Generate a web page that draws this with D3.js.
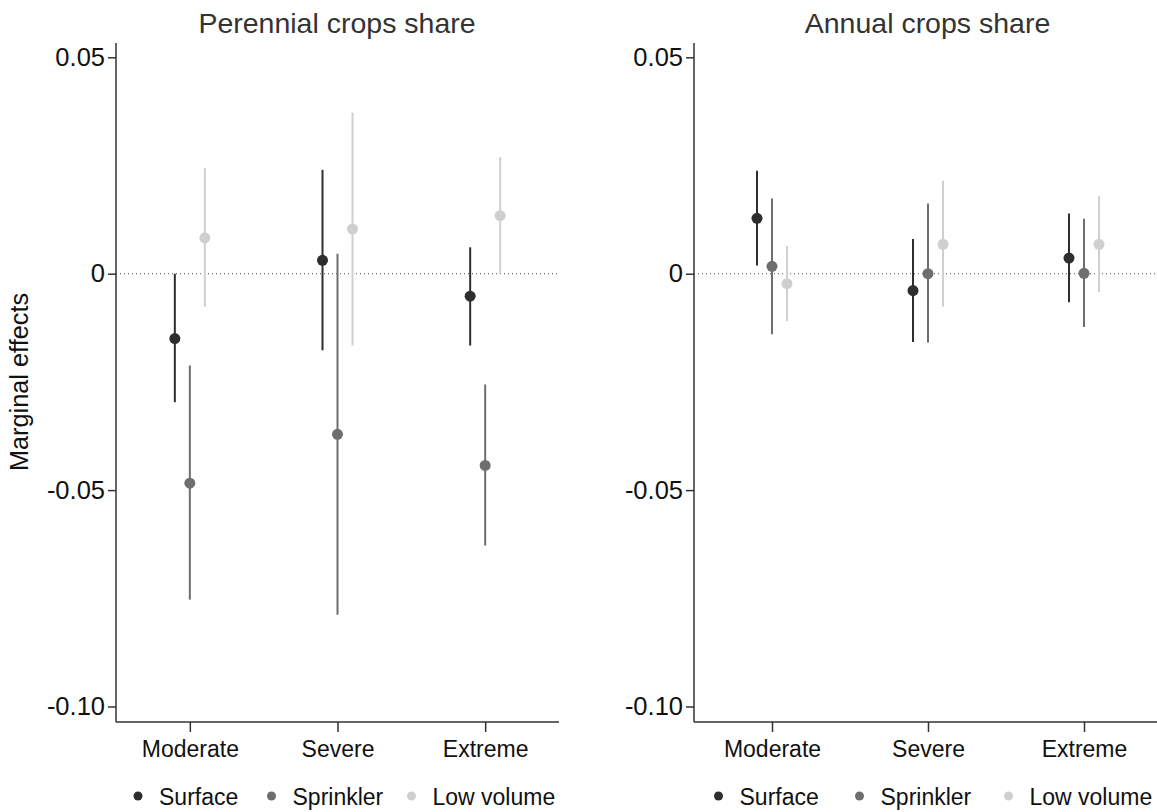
<!DOCTYPE html>
<html>
<head>
<meta charset="utf-8">
<script src="https://cdn.jsdelivr.net/npm/d3@7"></script>
<style>
  body { margin: 0; background: #fff; }
  svg { font-family: Arial, "Liberation Sans", sans-serif; }
</style>
</head>
<body>
<div id="chart"></div>
<script>
const categories = ['Moderate', 'Severe', 'Extreme'];
const series = ['Surface', 'Sprinkler', 'Low volume'];
const yTicks = [0.05, 0, -0.05, -0.10];
const yTickLabels = ['0.05', '0', '-0.05', '-0.10'];

// Perennial crops share: rows = series, columns = categories
const perEst = [[-0.0150, 0.0031, -0.0052], [-0.0484, -0.0371, -0.0443], [0.0083, 0.0103, 0.0134]];
const perLo  = [[-0.0297, -0.0177, -0.0166], [-0.0753, -0.0788, -0.0628], [-0.0076, -0.0166, 0.0000]];
const perHi  = [[0.0000, 0.0240, 0.0061], [-0.0212, 0.0046, -0.0256], [0.0244, 0.0372, 0.0269]];

// Annual crops share
const annEst = [[0.0128, -0.0039, 0.0036], [0.0017, 0.0000, 0.0001], [-0.0023, 0.0068, 0.0068]];
const annLo  = [[0.0019, -0.0158, -0.0066], [-0.0140, -0.0159, -0.0123], [-0.0110, -0.0076, -0.0042]];
const annHi  = [[0.0238, 0.0080, 0.0139], [0.0174, 0.0162, 0.0127], [0.0064, 0.0215, 0.0179]];

const colors = ['#2e2e2e', '#6e6e6e', '#cfcfcf'];

const svg = d3.select('#chart').append('svg')
  .attr('width', 1157)
  .attr('height', 812);

const plotTop = 43, plotBottom = 722;
const y = d3.scaleLinear().domain([-0.10, 0.05]).range([706.5, 57.3]);

const panels = [
  {title: 'Perennial crops share', x0: 116, x1: 559, est: perEst, lo: perLo, hi: perHi,
   legendX: 138, legendOffsets: [0, 133.5, 273.5]},
  {title: 'Annual crops share', x0: 694, x1: 1162, est: annEst, lo: annLo, hi: annHi,
   legendX: 718.5, legendOffsets: [0, 141, 290]}
];

panels.forEach(p => {
  const g = svg.append('g');
  const x = d3.scalePoint().domain(categories).range([p.x0, p.x1]).padding(0.5);
  const off = d3.scalePoint().domain(series).range([-15, 15]);

  // title
  g.append('text')
    .attr('x', (p.x0 + p.x1) / 2 - 0.5)
    .attr('y', 33)
    .attr('text-anchor', 'middle')
    .attr('font-size', 28.5)
    .attr('fill', '#333')
    .text(p.title);

  // zero reference line
  g.append('line')
    .attr('x1', p.x0).attr('x2', p.x1)
    .attr('y1', y(0)).attr('y2', y(0))
    .attr('stroke', '#555')
    .attr('stroke-width', 1)
    .attr('stroke-dasharray', '1,3');

  // y axis
  const yAxis = d3.axisLeft(y).tickValues(yTicks)
    .tickFormat((d, i) => yTickLabels[i]).tickSize(8).tickPadding(3);
  const yg = g.append('g').attr('transform', `translate(${p.x0},0)`).call(yAxis);
  yg.select('.domain').remove();
  yg.append('line').attr('x1', 0).attr('x2', 0).attr('y1', plotTop).attr('y2', plotBottom)
    .attr('stroke', '#333').attr('stroke-width', 1.5);
  yg.selectAll('.tick line').attr('stroke', '#333').attr('stroke-width', 1.5);
  yg.selectAll('.tick text').attr('font-size', 25.5).attr('fill', '#111')
    .attr('font-family', 'Arial, "Liberation Sans", sans-serif');

  // x axis
  const xAxis = d3.axisBottom(x).tickSize(10).tickPadding(9);
  const xg = g.append('g').attr('transform', `translate(0,${plotBottom})`).call(xAxis);
  xg.select('.domain').remove();
  xg.append('line').attr('x1', p.x0).attr('x2', p.x1).attr('y1', 0).attr('y2', 0)
    .attr('stroke', '#333').attr('stroke-width', 1.5);
  xg.selectAll('.tick line').attr('stroke', '#333').attr('stroke-width', 1.5);
  xg.selectAll('.tick text').attr('font-size', 23).attr('fill', '#111')
    .attr('font-family', 'Arial, "Liberation Sans", sans-serif');

  // error bars and points
  series.forEach((s, si) => {
    const rows = categories.map((c, ci) => ({c, est: p.est[si][ci], lo: p.lo[si][ci], hi: p.hi[si][ci]}));
    const sg = g.append('g');
    sg.selectAll('line.ci').data(rows).enter().append('line')
      .attr('class', 'ci')
      .attr('x1', d => x(d.c) + off(s)).attr('x2', d => x(d.c) + off(s))
      .attr('y1', d => y(d.lo)).attr('y2', d => y(d.hi))
      .attr('stroke', colors[si]).attr('stroke-width', 2);
    sg.selectAll('circle').data(rows).enter().append('circle')
      .attr('cx', d => x(d.c) + off(s)).attr('cy', d => y(d.est))
      .attr('r', 5.5).attr('fill', colors[si]);
  });

  // legend
  const lg = g.append('g').attr('transform', `translate(${p.legendX},796)`);
  series.forEach((s, si) => {
    lg.append('circle').attr('cx', p.legendOffsets[si]).attr('cy', 0).attr('r', 4.5).attr('fill', colors[si]);
    lg.append('text').attr('x', p.legendOffsets[si] + 21).attr('y', 9)
      .attr('font-size', 23).attr('fill', '#111').text(s);
  });
});

// y axis title
svg.append('text')
  .attr('transform', 'translate(28,382) rotate(-90)')
  .attr('text-anchor', 'middle')
  .attr('font-size', 25.3)
  .attr('fill', '#111')
  .text('Marginal effects');
</script>
</body>
</html>
